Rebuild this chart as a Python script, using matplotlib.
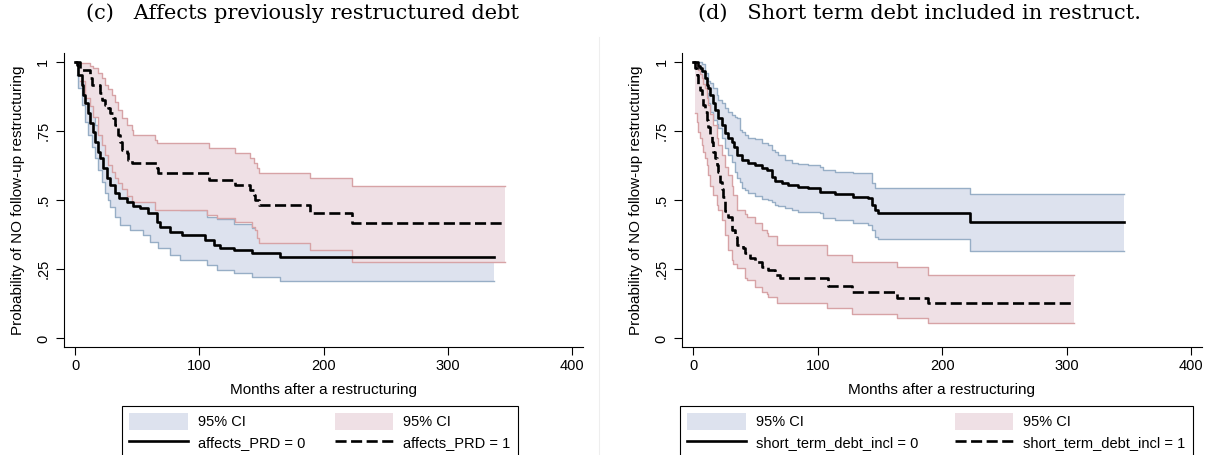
import matplotlib
matplotlib.use("Agg")
import matplotlib.pyplot as plt
from matplotlib.patches import Patch
from matplotlib.lines import Line2D

plt.rcParams['font.family'] = ['Liberation Sans', 'DejaVu Sans']

# ---- panel (c): affects previously restructured debt ----
c0_t = [0, 1.3, 2.7, 5.4, 6.7, 8.1, 10.7, 12.1, 14.8, 16.1, 18.8, 20.1, 22.8, 25.5, 28.2, 32.2, 35,
        41.6, 47, 52.3, 59, 65.8, 68.4, 76.5, 85.9, 104.7, 111.4, 116.7, 128, 142.3, 164.5, 337.4]
c0_s = [1, 0.988, 0.952, 0.916, 0.880, 0.849, 0.813, 0.777, 0.747, 0.711, 0.675, 0.651, 0.615, 0.578,
        0.554, 0.524, 0.506, 0.494, 0.48, 0.47, 0.452, 0.422, 0.404, 0.385, 0.373, 0.355, 0.337, 0.325,
        0.319, 0.307, 0.293, 0.293]
c0_ci_t = [1.3, 2.7, 5.4, 8.1, 10.7, 13.4, 16.1, 18.8, 21.5, 24.2, 26.5, 28.2, 32.2, 36.2, 44.3, 55,
           60.4, 67, 76.5, 84.5, 106, 114, 127.5, 142.3, 164.5, 337.4]
c0_lo = [0.952, 0.903, 0.843, 0.783, 0.735, 0.693, 0.651, 0.608, 0.566, 0.524, 0.50, 0.476, 0.44, 0.41,
         0.392, 0.373, 0.349, 0.325, 0.301, 0.283, 0.265, 0.247, 0.235, 0.223, 0.209, 0.209]
c0_hi = [1.0, 0.99, 0.97, 0.91, 0.88, 0.85, 0.77, 0.74, 0.72, 0.70, 0.65, 0.63, 0.60, 0.59, 0.59, 0.56,
         0.55, 0.52, 0.47, 0.465, 0.44, 0.43, 0.415, 0.40, 0.385, 0.385]

c1_t = [0, 4.0, 12.1, 13.4, 20.1, 21.5, 24.2, 26.8, 28.2, 30.8, 32.2, 34.9, 36.2, 37.6, 41.6, 42.9,
        45.6, 65.8, 67.1, 107.4, 128.8, 140.9, 143.6, 144.9, 147.6, 189.2, 222.8, 346.2]
c1_s = [1, 0.970, 0.940, 0.915, 0.885, 0.861, 0.843, 0.831, 0.813, 0.795, 0.771, 0.735, 0.711, 0.681,
        0.669, 0.645, 0.633, 0.615, 0.596, 0.572, 0.554, 0.536, 0.518, 0.50, 0.482, 0.454, 0.418, 0.418]
c1_ci_t = [4.0, 8.1, 12.1, 14.8, 18.8, 21.5, 24.2, 26.8, 29.5, 32.2, 34.9, 37.6, 41.6, 45.6, 46.9, 64.4,
           65.8, 106, 107.4, 114, 128.8, 140.9, 142.3, 143.6, 144.9, 146.3, 147.6, 189.2, 222.8, 346.2]
c1_hi = [0.995, 0.995, 0.985, 0.976, 0.96, 0.94, 0.915, 0.90, 0.88, 0.855, 0.825, 0.795, 0.771, 0.753,
         0.735, 0.717, 0.705, 0.705, 0.689, 0.689, 0.669, 0.651, 0.651, 0.633, 0.633, 0.615, 0.599,
         0.578, 0.551, 0.551]
c1_lo = [0.93, 0.867, 0.84, 0.80, 0.735, 0.699, 0.663, 0.627, 0.60, 0.58, 0.56, 0.54, 0.515, 0.494,
         0.494, 0.464, 0.464, 0.446, 0.446, 0.434, 0.422, 0.422, 0.401, 0.401, 0.392, 0.362, 0.345,
         0.319, 0.277, 0.277]

# ---- panel (d): short term debt included in restructuring ----
d0_t = [0, 4.0, 5.4, 6.7, 9.4, 10.7, 12.1, 13.4, 16.1, 17.4, 20.1, 22.8, 25.5, 28.2, 30.8, 33, 34.9,
        38.9, 44.2, 49.6, 55, 59, 63, 65.7, 71.1, 76.4, 84.4, 92.4, 101.8, 113.9, 128.6, 140.7, 143.4,
        146.1, 148.7, 222.4, 346]
d0_s = [1, 0.985, 0.976, 0.965, 0.94, 0.915, 0.904, 0.879, 0.849, 0.825, 0.795, 0.771, 0.741, 0.723,
        0.711, 0.693, 0.663, 0.645, 0.633, 0.626, 0.615, 0.608, 0.584, 0.569, 0.560, 0.554, 0.548,
        0.542, 0.53, 0.522, 0.512, 0.506, 0.482, 0.464, 0.452, 0.422, 0.422]
d0_ci_t = [1.4, 4.0, 6.7, 9.4, 12.1, 13.4, 16.1, 18.8, 20.1, 22.8, 25.5, 28.2, 30.8, 33.5, 34.9, 37.5,
           38.9, 41.6, 44.2, 49.6, 55, 60.3, 63, 65.7, 68.3, 73.7, 79.1, 84.4, 92.4, 101.8, 104.5,
           113.9, 128.6, 140.7, 143.4, 146.1, 148.7, 222.4, 346]
d0_hi = [1.0, 1.0, 0.99, 0.96, 0.93, 0.921, 0.904, 0.879, 0.86, 0.849, 0.831, 0.819, 0.807, 0.80, 0.795,
         0.753, 0.745, 0.735, 0.725, 0.72, 0.705, 0.699, 0.681, 0.675, 0.663, 0.645, 0.633, 0.63, 0.626,
         0.62, 0.608, 0.602, 0.596, 0.596, 0.560, 0.542, 0.542, 0.522, 0.522]
d0_lo = [0.982, 0.952, 0.915, 0.885, 0.849, 0.819, 0.789, 0.775, 0.759, 0.723, 0.687, 0.663, 0.638,
         0.602, 0.58, 0.565, 0.545, 0.535, 0.525, 0.515, 0.505, 0.50, 0.494, 0.482, 0.478, 0.47, 0.465,
         0.458, 0.455, 0.452, 0.434, 0.428, 0.416, 0.41, 0.392, 0.367, 0.358, 0.317, 0.317]

d1_t = [0, 1.4, 2.7, 4.0, 5.4, 6.7, 8.1, 9.4, 10.7, 12.1, 13.4, 14.8, 16.1, 17.4, 18.8, 20.1, 21.5,
        22.8, 24.1, 25.5, 28.2, 30.8, 33.5, 34.9, 40.2, 41.6, 45.6, 49.6, 55, 60.3, 65.7, 69.7, 108.5,
        127.3, 163.5, 188.9, 306]
d1_s = [1, 0.976, 0.952, 0.915, 0.897, 0.867, 0.843, 0.819, 0.789, 0.765, 0.735, 0.711, 0.675, 0.651,
        0.626, 0.602, 0.566, 0.54, 0.51, 0.46, 0.44, 0.392, 0.367, 0.337, 0.325, 0.307, 0.289, 0.277,
        0.259, 0.247, 0.229, 0.22, 0.19, 0.167, 0.145, 0.127, 0.127]
d1_ci_t = [1.4, 2.7, 4.0, 5.4, 6.7, 8.1, 9.4, 10.7, 12.1, 13.4, 16.1, 18.8, 20.1, 22.8, 25.5, 28.2,
           30.8, 32.2, 34.9, 41.6, 42.9, 49.6, 55, 59, 60.3, 67, 107.2, 127.3, 163.5, 188.9, 306]
d1_hi = [0.995, 0.985, 0.97, 0.955, 0.94, 0.92, 0.904, 0.87, 0.843, 0.81, 0.771, 0.723, 0.70, 0.663,
         0.62, 0.59, 0.55, 0.518, 0.465, 0.45, 0.44, 0.416, 0.392, 0.38, 0.37, 0.337, 0.301, 0.277,
         0.257, 0.229, 0.229]
d1_lo = [0.813, 0.783, 0.747, 0.723, 0.699, 0.675, 0.651, 0.626, 0.59, 0.55, 0.518, 0.482, 0.464, 0.428,
         0.374, 0.319, 0.283, 0.27, 0.253, 0.217, 0.21, 0.187, 0.169, 0.16, 0.151, 0.127, 0.109, 0.09,
         0.075, 0.054, 0.054]

titles = ["(c)   Affects previously restructured debt", "(d)   Short term debt included in restruct."]
groups = ["affects_PRD", "short_term_debt_incl"]
xticks = [0, 100, 200, 300, 400]
yticks = [0, 0.25, 0.5, 0.75, 1]
ytick_labels = ["0", ".25", ".5", ".75", "1"]

blue_fill, blue_edge = "#dde2ee", "#97aec6"
pink_fill, pink_edge = "#efe0e5", "#d7a3a6"
dash = (0, (4.2, 1.7))

fig = plt.figure(figsize=(12.14, 4.55), dpi=100)
W, H = 1214, 455
ax_l = fig.add_axes([63.5 / W, 1 - 347.3 / H, 519.5 / W, 294 / H])
ax_r = fig.add_axes([681.7 / W, 1 - 347.3 / H, 520.3 / W, 294 / H])

panels = [
    (ax_l, (c0_ci_t, c0_lo, c0_hi), (c1_ci_t, c1_lo, c1_hi), (c0_t, c0_s), (c1_t, c1_s)),
    (ax_r, (d0_ci_t, d0_lo, d0_hi), (d1_ci_t, d1_lo, d1_hi), (d0_t, d0_s), (d1_t, d1_s)),
]

for ax, ci0, ci1, l0, l1 in panels:
    # blue band first, pink band drawn over it, survival lines on top
    z = 1.0
    for (t, lo, hi), fc, ec in [(ci0, blue_fill, blue_edge), (ci1, pink_fill, pink_edge)]:
        ax.fill_between(t, lo, hi, step='post', facecolor=fc, edgecolor='none', lw=0, zorder=z)
        ax.step(t, lo, where='post', color=ec, lw=1.0, zorder=z + 0.1)
        ax.step(t, hi, where='post', color=ec, lw=1.0, zorder=z + 0.1)
        z += 0.5
    ax.step(l0[0], l0[1], where='post', color='black', lw=1.9, zorder=3)
    ax.step(l1[0], l1[1], where='post', color='black', lw=1.9, linestyle=dash, zorder=3)

    ax.set_xlim(-9.3, 408.6)
    ax.set_ylim(-0.032, 1.030)
    ax.set_xticks(xticks)
    ax.set_yticks(yticks)
    ax.set_yticklabels(ytick_labels, rotation=90, va='center')
    for s in ['top', 'right']:
        ax.spines[s].set_visible(False)
    for s in ['left', 'bottom']:
        ax.spines[s].set_linewidth(0.8)
    ax.tick_params(length=5.5, width=0.8, labelsize=10.5)
    ax.tick_params(axis='y', pad=4)
    ax.tick_params(axis='x', pad=3)
    ax.set_xlabel("Months after a restructuring", fontsize=11, labelpad=7)
    ax.set_ylabel("Probability of NO follow-up restructuring", fontsize=11, labelpad=8)

# titles
fig.text(302 / W, 1 - 13 / H, titles[0], family='DejaVu Serif', fontsize=15, ha='center', va='center')
fig.text(920 / W, 1 - 13 / H, titles[1], family='DejaVu Serif', fontsize=15, ha='center', va='center')

# faint separator between panels
fig.add_artist(Line2D([598.5 / W, 598.5 / W], [0, 1 - 37 / H], transform=fig.transFigure,
                      color='#eeeeee', lw=0.8))

# legends
for g, (x0, x1) in zip(groups, [(122, 518), (680, 1193)]):
    handles = [Patch(facecolor=blue_fill, edgecolor='none'),
               Line2D([], [], color='black', lw=1.9),
               Patch(facecolor=pink_fill, edgecolor='none'),
               Line2D([], [], color='black', lw=1.9, linestyle=dash)]
    labels = ["95% CI", f"{g} = 0", "95% CI", f"{g} = 1"]
    leg = fig.legend(handles, labels, ncol=2, loc='upper left', mode='expand',
                     bbox_to_anchor=(x0 / W, 1 - 406 / H, (x1 - x0) / W, 0),
                     bbox_transform=fig.transFigure, fontsize=10.5, frameon=True,
                     fancybox=False, edgecolor='black', framealpha=1, borderpad=0.5,
                     handlelength=4.0, handleheight=1.35, handletextpad=0.7, labelspacing=0.3,
                     borderaxespad=0)
    leg.get_frame().set_linewidth(0.8)

fig.savefig("out.png", dpi=100)
